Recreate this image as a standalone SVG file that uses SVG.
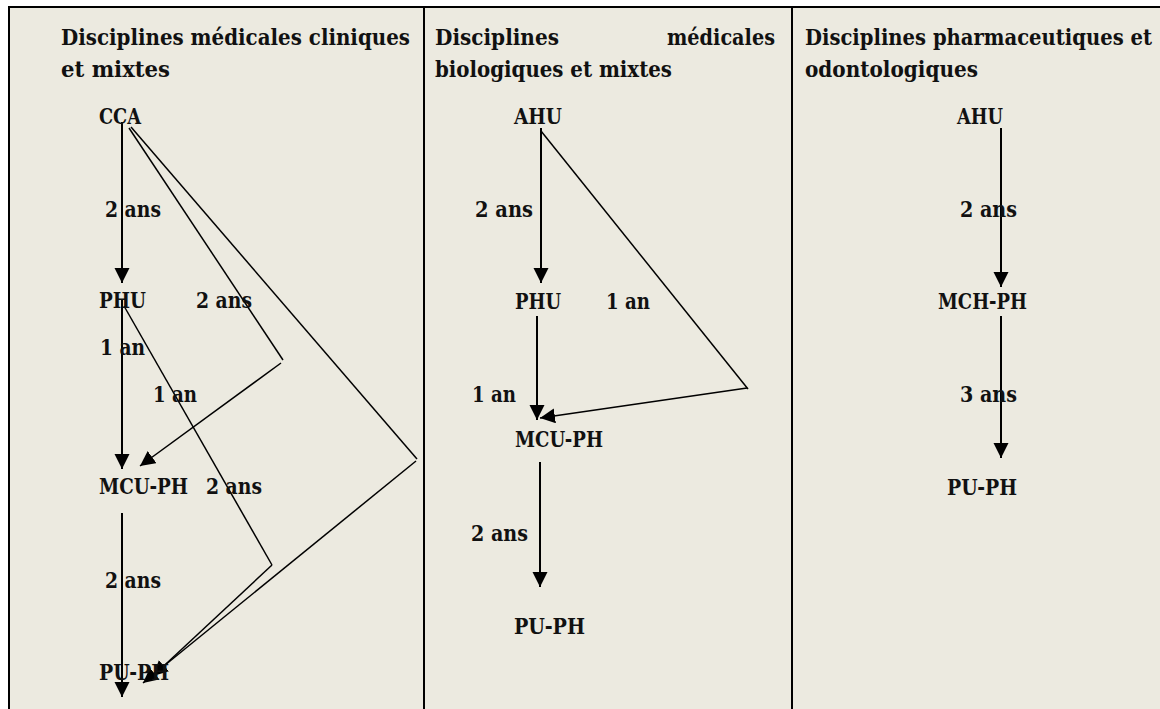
<svg xmlns="http://www.w3.org/2000/svg" width="1160" height="709" viewBox="0 0 1160 709">
<style>
  text { font-family: "DejaVu Serif", "Liberation Serif", serif; font-weight: bold; font-size: 21.5px; fill: #111; }
  .frame { stroke: #000; stroke-width: 2; fill: none; }
  .v { stroke: #000; stroke-width: 2; fill: none; }
  .d { stroke: #000; stroke-width: 1.5; fill: none; }
</style>
<defs>
  <marker id="ah" markerUnits="userSpaceOnUse" markerWidth="17" markerHeight="17" refX="15" refY="7.5" orient="auto">
    <path d="M0,0 L15,7.5 L0,15 Z" fill="#000"/>
  </marker>
</defs>
<rect x="0" y="0" width="1160" height="709" fill="#ffffff"/>
<rect x="9" y="7" width="1151" height="702" fill="#ECEAE0"/>
<g id="frame">
  <line class="frame" x1="8" y1="7" x2="1160" y2="7"/>
  <line class="frame" x1="9" y1="6" x2="9" y2="709"/>
  <line class="frame" x1="424" y1="6" x2="424" y2="709"/>
  <line class="frame" x1="792" y1="6" x2="792" y2="709"/>
</g>
<g id="headers">
  <text x="61" y="45" textLength="349" lengthAdjust="spacingAndGlyphs">Disciplines médicales cliniques</text>
  <text x="61" y="77" textLength="109" lengthAdjust="spacingAndGlyphs">et mixtes</text>
  <text x="435" y="45" textLength="124" lengthAdjust="spacingAndGlyphs">Disciplines</text>
  <text x="667" y="45" textLength="108" lengthAdjust="spacingAndGlyphs">médicales</text>
  <text x="435" y="77" textLength="237" lengthAdjust="spacingAndGlyphs">biologiques et mixtes</text>
  <text x="805" y="45" textLength="347" lengthAdjust="spacingAndGlyphs">Disciplines pharmaceutiques et</text>
  <text x="805" y="77" textLength="173" lengthAdjust="spacingAndGlyphs">odontologiques</text>
</g>
<g id="connectors">
  <!-- column 1 -->
  <line class="v" x1="122" y1="122" x2="122" y2="283" marker-end="url(#ah)"/>
  <line class="v" x1="122" y1="300" x2="122" y2="469" marker-end="url(#ah)"/>
  <line class="v" x1="122" y1="513" x2="122" y2="697" marker-end="url(#ah)"/>
  <polyline class="d" points="129,128 283,360"/>
  <line class="d" x1="281" y1="363" x2="140" y2="466" marker-end="url(#ah)"/>
  <polyline class="d" points="131,127 417,459"/>
  <line class="d" x1="416" y1="461" x2="143" y2="683" marker-end="url(#ah)"/>
  <polyline class="d" points="124,306 272,565"/>
  <line class="d" x1="272" y1="565" x2="153" y2="676" marker-end="url(#ah)"/>
  <!-- column 2 -->
  <line class="v" x1="541" y1="128" x2="541" y2="283" marker-end="url(#ah)"/>
  <line class="v" x1="537" y1="316" x2="537" y2="420" marker-end="url(#ah)"/>
  <line class="v" x1="540" y1="462" x2="540" y2="587" marker-end="url(#ah)"/>
  <polyline class="d" points="541,131 748,389"/>
  <line class="d" x1="747" y1="388" x2="540" y2="418" marker-end="url(#ah)"/>
  <!-- column 3 -->
  <line class="v" x1="1001" y1="128" x2="1001" y2="287" marker-end="url(#ah)"/>
  <line class="v" x1="1001" y1="316" x2="1001" y2="458" marker-end="url(#ah)"/>
</g>
<g id="connector-labels">
  <text x="105" y="217" textLength="56" lengthAdjust="spacingAndGlyphs">2 ans</text>
  <text x="196" y="308" textLength="56" lengthAdjust="spacingAndGlyphs">2 ans</text>
  <text x="100" y="355" textLength="45" lengthAdjust="spacingAndGlyphs">1 an</text>
  <text x="153" y="402" textLength="44" lengthAdjust="spacingAndGlyphs">1 an</text>
  <text x="206" y="494" textLength="56" lengthAdjust="spacingAndGlyphs">2 ans</text>
  <text x="105" y="588" textLength="56" lengthAdjust="spacingAndGlyphs">2 ans</text>
  <text x="475" y="217" textLength="58" lengthAdjust="spacingAndGlyphs">2 ans</text>
  <text x="606" y="309" textLength="44" lengthAdjust="spacingAndGlyphs">1 an</text>
  <text x="472" y="402" textLength="44" lengthAdjust="spacingAndGlyphs">1 an</text>
  <text x="471" y="541" textLength="57" lengthAdjust="spacingAndGlyphs">2 ans</text>
  <text x="960" y="217" textLength="57" lengthAdjust="spacingAndGlyphs">2 ans</text>
  <text x="960" y="402" textLength="57" lengthAdjust="spacingAndGlyphs">3 ans</text>
</g>
<g id="c1-cca"><text x="99" y="124" textLength="42" lengthAdjust="spacingAndGlyphs">CCA</text></g>
<g id="c1-phu"><text x="99" y="308" textLength="47" lengthAdjust="spacingAndGlyphs">PHU</text></g>
<g id="c1-mcuph"><text x="99" y="494" textLength="89" lengthAdjust="spacingAndGlyphs">MCU-PH</text></g>
<g id="c1-puph"><text x="99" y="680" textLength="70" lengthAdjust="spacingAndGlyphs">PU-PH</text></g>
<g id="c2-ahu"><text x="514" y="124" textLength="48" lengthAdjust="spacingAndGlyphs">AHU</text></g>
<g id="c2-phu"><text x="515" y="309" textLength="46" lengthAdjust="spacingAndGlyphs">PHU</text></g>
<g id="c2-mcuph"><text x="515" y="447" textLength="88" lengthAdjust="spacingAndGlyphs">MCU-PH</text></g>
<g id="c2-puph"><text x="514" y="634" textLength="71" lengthAdjust="spacingAndGlyphs">PU-PH</text></g>
<g id="c3-ahu"><text x="957" y="124" textLength="46" lengthAdjust="spacingAndGlyphs">AHU</text></g>
<g id="c3-mchph"><text x="938" y="309" textLength="89" lengthAdjust="spacingAndGlyphs">MCH-PH</text></g>
<g id="c3-puph"><text x="947" y="495" textLength="70" lengthAdjust="spacingAndGlyphs">PU-PH</text></g>
</svg>
